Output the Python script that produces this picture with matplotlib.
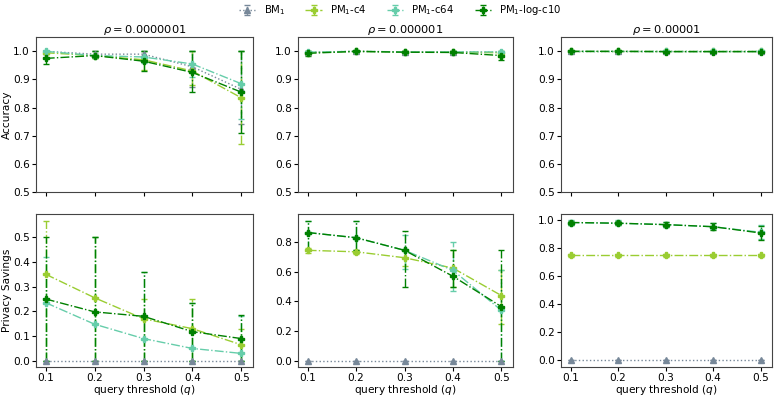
import matplotlib
matplotlib.use("Agg")
import matplotlib.pyplot as plt
import numpy as np

plt.rcParams.update({"font.size": 7.6, "axes.titlesize": 8.2,
                     "xtick.labelsize": 7.6, "ytick.labelsize": 7.6})

q = [0.1, 0.2, 0.3, 0.4, 0.5]
rhos = ["0.0000001", "0.000001", "0.00001"]
labels = ["BM$_1$", "PM$_1$-c4", "PM$_1$-c64", "PM$_1$-log-c10"]
colors = ["#778899", "#9acd32", "#66cdaa", "#008000"]
styles = [":", "-.", "-.", "-."]
markers = ["^", "P", "P", "P"]

# accuracy: per rho -> per method (mean, lower, upper)
acc_mean = [
    [[1.0, 0.99, 0.99, 0.945, 0.865], [0.995, 0.985, 0.97, 0.93, 0.835],
     [1.0, 0.985, 0.98, 0.955, 0.885], [0.975, 0.985, 0.965, 0.925, 0.855]],
    [[0.997, 1.0, 0.998, 0.998, 0.997], [0.995, 1.0, 0.997, 0.997, 0.995],
     [0.997, 1.0, 0.998, 0.998, 0.998], [0.993, 1.0, 0.997, 0.996, 0.985]],
    [[1.0] * 5, [1.0] * 5, [1.0] * 5, [1.0, 1.0, 0.999, 0.999, 0.999]],
]
acc_lo = [
    [[0.99, 0.98, 0.97, 0.875, 0.74], [0.975, 0.975, 0.935, 0.88, 0.67],
     [0.99, 0.98, 0.96, 0.91, 0.76], [0.955, 0.975, 0.93, 0.855, 0.71]],
    [[0.99, 0.995, 0.99, 0.99, 0.985], [0.99, 0.995, 0.99, 0.99, 0.98],
     [0.99, 0.995, 0.99, 0.99, 0.985], [0.985, 0.995, 0.99, 0.99, 0.97]],
    [[0.995] * 5, [0.995] * 5, [0.995] * 5, [0.995] * 5],
]
acc_hi = [
    [[1.0, 1.0, 1.0, 1.0, 1.0], [1.0, 1.0, 1.0, 1.0, 1.0],
     [1.0, 1.0, 1.0, 1.0, 1.0], [0.995, 1.0, 1.0, 1.0, 1.0]],
    [[1.0] * 5, [1.0] * 5, [1.0] * 5, [1.0, 1.0, 1.0, 1.0, 0.995]],
    [[1.0] * 5, [1.0] * 5, [1.0] * 5, [1.0] * 5],
]

# privacy savings
ps_mean = [
    [[0.0] * 5, [0.35, 0.255, 0.17, 0.13, 0.065],
     [0.235, 0.148, 0.09, 0.05, 0.03], [0.25, 0.198, 0.18, 0.118, 0.09]],
    [[0.0] * 5, [0.745, 0.735, 0.695, 0.625, 0.44],
     [0.865, 0.83, 0.745, 0.61, 0.34], [0.865, 0.83, 0.745, 0.57, 0.365]],
    [[0.0] * 5, [0.75] * 5,
     [0.985, 0.98, 0.97, 0.955, 0.915], [0.985, 0.98, 0.97, 0.955, 0.91]],
]
ps_lo = [
    [[0.0] * 5, [0.0, 0.0, 0.0, 0.0, 0.0], [0.0] * 5, [0.0] * 5],
    [[0.0] * 5, [0.73, 0.72, 0.64, 0.5, 0.25],
     [0.75, 0.75, 0.62, 0.47, 0.0], [0.75, 0.75, 0.5, 0.5, 0.0]],
    [[0.0] * 5, [0.74] * 5,
     [0.97, 0.965, 0.955, 0.935, 0.87], [0.97, 0.965, 0.955, 0.93, 0.86]],
]
ps_hi = [
    [[0.0] * 5, [0.565, 0.5, 0.25, 0.25, 0.13],
     [0.42, 0.5, 0.36, 0.235, 0.18], [0.5, 0.5, 0.36, 0.235, 0.185]],
    [[0.0] * 5, [0.76, 0.75, 0.75, 0.75, 0.61],
     [0.94, 0.94, 0.85, 0.8, 0.61], [0.94, 0.94, 0.875, 0.75, 0.75]],
    [[0.0] * 5, [0.76] * 5,
     [1.0, 1.0, 0.99, 0.985, 0.965], [0.995, 0.995, 0.99, 0.985, 0.96]],
]

W, H = 777, 398
fig = plt.figure(figsize=(W / 100, H / 100), dpi=100)
cols = [(36, 253), (298, 513), (561, 772)]
rows = [(37, 192), (214, 367)]

ylims_bot = [(-0.025, 0.594), (-0.042, 0.99), (-0.05, 1.046)]
yticks_bot = [np.arange(0, 0.51, 0.1), np.arange(0, 0.81, 0.2), np.arange(0, 1.01, 0.2)]

handles = []
for c in range(3):
    for r in range(2):
        top, bot = rows[r]
        l, rt = cols[c]
        ax = fig.add_axes([l / W, 1 - bot / H, (rt - l) / W, (bot - top) / H])
        if r == 0:
            mean, lo, hi = acc_mean[c], acc_lo[c], acc_hi[c]
        else:
            mean, lo, hi = ps_mean[c], ps_lo[c], ps_hi[c]
        for i in range(4):
            m = np.array(mean[i])
            err = [m - np.array(lo[i]), np.array(hi[i]) - m]
            eb = ax.errorbar(q, m, yerr=err, color=colors[i], ls=styles[i],
                             marker=markers[i], ms=4, lw=1.0, capsize=2.5,
                             elinewidth=1.0, label=labels[i])
            for lc in eb[2]:
                lc.set_linestyle(styles[i])
            if c == 0 and r == 0:
                handles.append(eb)
        ax.set_xticks(q)
        ax.set_xlim(0.08, 0.524)
        if r == 0:
            ax.set_ylim(0.5, 1.051)
            ax.set_yticks(np.arange(0.5, 1.01, 0.1))
            ax.set_xticklabels([])
            ax.set_title(r"$\rho = %s$" % rhos[c], pad=3)
        else:
            ax.set_ylim(*ylims_bot[c])
            ax.set_yticks(yticks_bot[c])
            ax.set_xlabel("query threshold ($q$)", labelpad=0)
        if c == 0:
            ax.set_ylabel("Accuracy" if r == 0 else "Privacy Savings", labelpad=0.5)
        ax.tick_params(length=3, pad=1.5)
        for s in ax.spines.values():
            s.set_color("#444444")

fig.legend(handles, labels, loc="upper center", ncol=4, frameon=False,
           bbox_to_anchor=(0.515, 1.015), fontsize=7.3, handlelength=1.6,
           columnspacing=2.0)
fig.savefig("out.png", dpi=100)
